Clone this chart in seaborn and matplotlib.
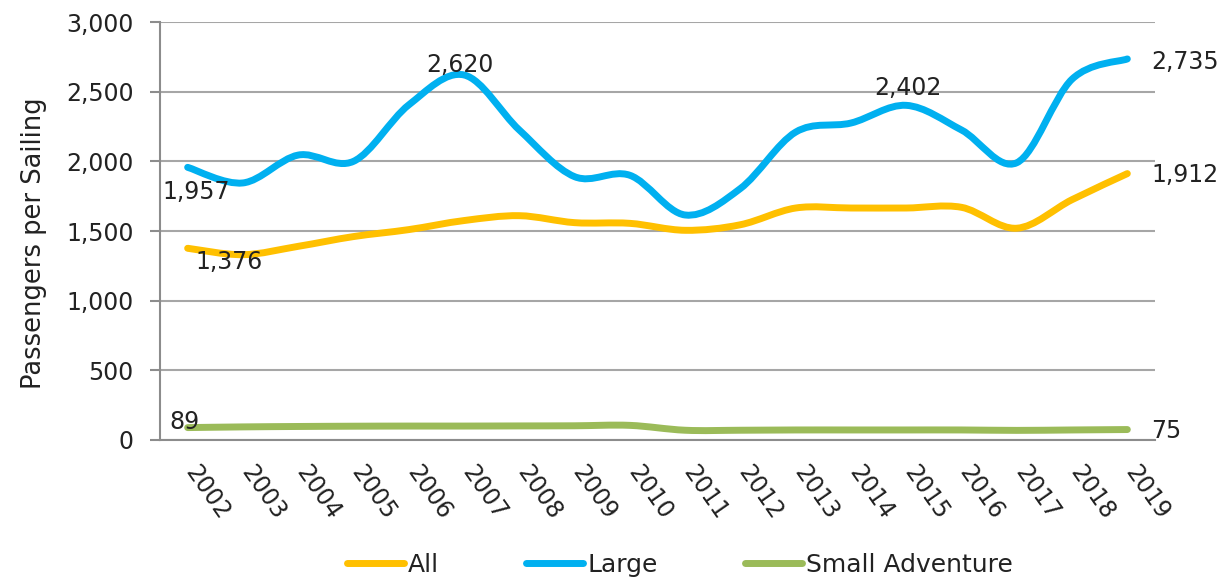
import numpy as np
import pandas as pd
import seaborn as sns
import matplotlib.pyplot as plt
import matplotlib.transforms as mtransforms
from matplotlib.path import Path
from matplotlib.patches import PathPatch
from matplotlib.lines import Line2D


# data
years = list(range(2002, 2020))
all_ships = [1376, 1330, 1390, 1460, 1510, 1575, 1610, 1560, 1555, 1505,
             1545, 1665, 1665, 1665, 1670, 1520, 1725, 1912]
large = [1957, 1845, 2045, 2000, 2405, 2620, 2225, 1890, 1900, 1615,
         1805, 2210, 2275, 2402, 2225, 1990, 2590, 2735]
small_adventure = [89, 94, 97, 99, 100, 100, 101, 102, 105, 70,
                   70, 72, 72, 72, 72, 69, 72, 75]
series_names = ['All', 'Large', 'Small Adventure']
colors = ['#FFC000', '#00B0F0', '#9BBB59']

# data labels: (series, year index, offset in points, alignment)
labels_to_show = [
    ('Large', 0, (6, -18), 'center'),
    ('All', 0, (30, -10), 'center'),
    ('Large', 5, (-3, 7), 'center'),
    ('Large', 13, (1.5, 12.5), 'center'),
    ('Large', 17, (17, -2), 'left'),
    ('All', 17, (17, -1), 'left'),
    ('Small Adventure', 0, (-2, 4), 'center'),
    ('Small Adventure', 17, (17, -1), 'left'),
]

values = {'All': all_ships, 'Large': large, 'Small Adventure': small_adventure}
df = pd.DataFrame({
    'idx': np.tile(np.arange(len(years)), 3),
    'value': all_ships + large + small_adventure,
    'series': np.repeat(series_names, len(years)),
})

sns.set_style('white')
plt.rcParams['font.family'] = ['DejaVu Sans']
text_color = '#222222'
axis_gray = '#8c8c8c'


def smooth_path(xy):
    # excel-like smoothed line through the points (bezier segments)
    n = len(xy)
    verts = [xy[0]]
    codes = [Path.MOVETO]
    for i in range(n - 1):
        p0 = xy[max(i - 1, 0)]
        p1 = xy[i]
        p2 = xy[i + 1]
        p3 = xy[min(i + 2, n - 1)]
        verts += [p1 + (p2 - p0) / 6, p2 - (p3 - p1) / 6, p2]
        codes += [Path.CURVE4] * 3
    return Path(verts, codes)


fig = plt.figure(figsize=(12.27, 5.81), dpi=100)
ax = fig.add_axes([0.1304, 0.2427, 0.8109, 0.7194])

sns.lineplot(data=df, x='idx', y='value', hue='series', hue_order=series_names,
             palette=colors, linewidth=5, legend=False, ax=ax)

# swap the straight segments for smoothed ones
for line in list(ax.lines):
    xy = line.get_xydata()
    patch = PathPatch(smooth_path(xy), facecolor='none', edgecolor=line.get_color(),
                      lw=5, capstyle='round', joinstyle='round', zorder=3)
    ax.add_patch(patch)
    line.set_visible(False)

ax.set_xlim(-0.5, len(years) - 0.5)
ax.set_ylim(0, 3000)
ax.set_yticks(np.arange(0, 3001, 500))
ax.set_yticklabels(['{:,}'.format(v) for v in range(0, 3001, 500)])
ax.grid(True, axis='y', color='#a6a6a6', lw=1.5)
ax.grid(False, axis='x')
ax.set_axisbelow(True)

for s in ['top', 'right']:
    ax.spines[s].set_visible(False)
for s in ['left', 'bottom']:
    ax.spines[s].set_color(axis_gray)
    ax.spines[s].set_linewidth(1.5)

ax.set_xticks(range(len(years)))
ax.set_xticklabels([str(y) for y in years], rotation=-55, ha='left', va='top')
ax.set_xticks(np.arange(-0.5, len(years)), minor=True)
ax.tick_params(axis='x', which='major', length=0, pad=15, labelsize=17, labelcolor=text_color)
ax.tick_params(axis='x', which='minor', length=6, width=1.5, color=axis_gray, direction='out')
ax.tick_params(axis='y', length=7, width=1.5, color=axis_gray, pad=12, labelsize=17,
               labelcolor=text_color, left=True)
shift = mtransforms.ScaledTranslation(-7 / 100, 0, fig.dpi_scale_trans)
for lab in ax.get_xticklabels():
    lab.set_transform(lab.get_transform() + shift)

ax.set_xlabel('')
ax.set_ylabel('Passengers per Sailing', fontsize=18.5, color=text_color)
ax.yaxis.set_label_coords(-0.114, 0.471)

# data labels
for name, i, off, ha in labels_to_show:
    v = values[name][i]
    ax.annotate('{:,}'.format(v), (i, v), xytext=off, textcoords='offset points',
                ha=ha, va='center', fontsize=17, color=text_color, zorder=4,
                annotation_clip=False)

handles = [Line2D([], [], color=c, lw=5, solid_capstyle='round') for c in colors]
fig.legend(handles, series_names, loc='center', bbox_to_anchor=(0.554, 0.0275), ncol=3,
           frameon=False, fontsize=18, handlelength=2.28, handletextpad=0.15,
           columnspacing=3.5, labelcolor=text_color)

fig.savefig('out.png', dpi=100)
